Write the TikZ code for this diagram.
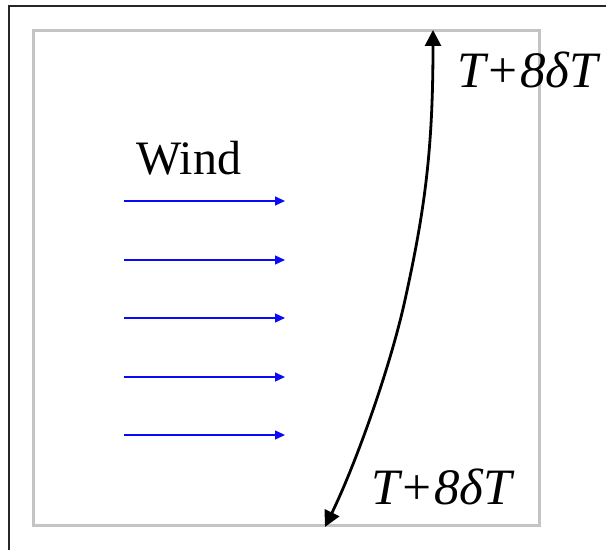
\documentclass[tikz,border=0pt]{standalone}
\usepackage{fontspec}
\setmainfont{Liberation Serif}
\usetikzlibrary{arrows.meta}
\definecolor{boxgray}{RGB}{196,196,196}
\definecolor{windblue}{RGB}{10,10,245}
\tikzset{
  frameline/.style={draw=black!85, line width=0.55pt},
  graybox/.style={draw=boxgray, line width=1.5pt},
  windarrow/.style={draw=windblue, line width=0.65pt, -{Triangle[length=5pt,width=4.5pt]}},
  timecurve/.style={draw=black, line width=1.4pt, {Triangle[length=8pt,width=8pt]}-{Triangle[length=8pt,width=8pt]}},
  biglabel/.style={inner sep=0pt, anchor=base west, font=\fontsize{24}{28}\selectfont},
  timelabel/.style={inner sep=0pt, anchor=base west, font=\fontsize{25.5}{30}\selectfont\itshape},
}
\begin{document}
\begin{tikzpicture}[x=0.5pt,y=-0.5pt]
\useasboundingbox (0,0) rectangle (606,550);
% outer frame (left and top edges)
\draw[frameline] (9,552) -- (9,6) -- (608,6);
% gray box
\draw[graybox] (33,31) rectangle (539,526);
% wind label
\node[biglabel] (wind) at (136,175) {Wind};
% wind arrows
\foreach \i/\y in {1/201,2/260,3/318,4/377,5/435}{
  \coordinate (ws\i) at (124,\y);
  \coordinate (we\i) at (285,\y);
  \draw[windarrow] (ws\i) -- (we\i);
}
% curve
\coordinate (top) at (433,30);
\coordinate (mid) at (405,300);
\coordinate (bot) at (325,527);
\draw[timecurve] (top) .. controls (433,150) and (424.8,210) .. (mid)
  .. controls (389.6,370) and (354.4,467) .. (bot);
% labels
\node[timelabel] (tlab) at (457,88) {T+8δT};
\node[timelabel] (blab) at (371,505) {T+8δT};
\end{tikzpicture}
\end{document}
